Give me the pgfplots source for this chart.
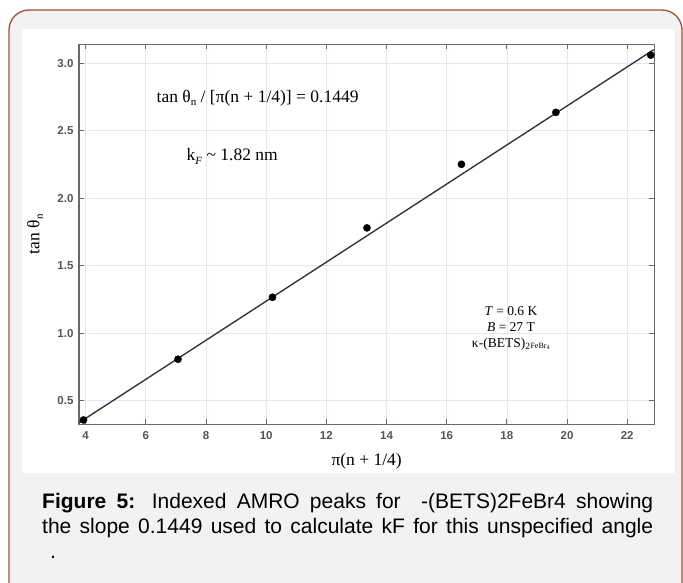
\documentclass[border=0pt]{standalone}
\usepackage{fontspec}
\setmainfont{Liberation Serif}
\newfontfamily\arialfont{Liberation Sans}
\usepackage{pgfplots}
\pgfplotsset{compat=1.18}
\definecolor{framebrown}{RGB}{160,82,52}
\definecolor{bggray}{RGB}{242,242,242}
\definecolor{gridc}{RGB}{228,228,250}
\definecolor{axisc}{RGB}{105,105,105}
\definecolor{tickc}{RGB}{85,85,85}
\definecolor{fitc}{RGB}{50,50,50}
\newcommand{\sub}[1]{\raisebox{-0.45ex}{\fontsize{11}{12}\selectfont #1}}

\begin{document}
\begin{tikzpicture}[x=1pt,y=1pt]
\useasboundingbox (0,0) rectangle (683,582);
\begin{scope}
\clip (0,0) rectangle (683,582);
\draw[framebrown, line width=1.3pt, fill=bggray, rounded corners=20pt] (9,-40) rectangle (682,572);
\end{scope}
\fill[white] (22,109) rectangle (675,553);
\begin{axis}[
  at={(79pt,157.7pt)}, anchor=south west,
  width=575.3pt, height=380pt, scale only axis,
  xmin=3.78, xmax=22.9, ymin=0.325, ymax=3.14,
  xtick={4,6,...,22}, ytick={0.5,1,1.5,2,2.5,3},
  yticklabel style={/pgf/number format/fixed, /pgf/number format/fixed zerofill, /pgf/number format/precision=1, xshift=-2pt},
  /pgf/number format/assume math mode=true,
  ticklabel style={font=\arialfont\bfseries\fontsize{11.5}{12}\selectfont, text=tickc},
  xticklabel style={yshift=-4pt},
  tick pos=both, tick align=inside, major tick length=5pt,
  tick style={axisc, line width=0.8pt},
  axis line style={axisc, line width=1.5pt},
  grid=major, grid style={gridc, line width=0.7pt},
  xlabel={π(n + 1/4)},
  ylabel={tan θ\sub{n}},
  label style={font=\fontsize{17.5}{20}\selectfont},
  xlabel style={at={(axis description cs:0.5,-0.097)}, anchor=center},
  ylabel style={at={(axis description cs:-0.0765,0.5)}, anchor=center},
]
\addplot[fitc, line width=1.35pt] coordinates {(3.78,0.337) (22.88,3.10)};
\addplot[only marks, mark=*, mark size=3.6pt, black] coordinates {
 (3.93,0.357) (7.07,0.807) (10.21,1.266) (13.35,1.780)
 (16.49,2.251) (19.63,2.636) (22.78,3.060)};
\end{axis}
\node[anchor=west, inner sep=0pt, font=\fontsize{17.5}{20}\selectfont] at (156.5,484)
  {tan θ\sub{n} / [π(n + 1/4)] = 0.1449};
\node[anchor=west, inner sep=0pt, font=\fontsize{17.5}{20}\selectfont] at (186.5,425.3)
  {k\sub{\textit{F}} \textasciitilde\ 1.82 nm};
\node[align=center, inner sep=0pt, font=\fontsize{13.5}{16}\selectfont] at (511,254)
  {\textit{T} = 0.6 K\\ \textit{B} = 27 T\\ κ-(BETS)\textsubscript{2}\raisebox{-0.25ex}{\fontsize{8}{9}\selectfont FeBr\textsubscript{4}}};
\node[anchor=base west, inner sep=0pt, font=\arialfont\fontsize{21}{25}\selectfont] at (42,74)
  {\hbox to 611pt{\textbf{Figure 5:} Indexed AMRO peaks for\ \ -(BETS)2FeBr4 showing}};
\node[anchor=base west, inner sep=0pt, font=\arialfont\fontsize{21}{25}\selectfont] at (42,49)
  {\hbox to 611pt{the slope 0.1449 used to calculate kF for this unspecified angle}};
\node[anchor=base west, inner sep=0pt, font=\arialfont\fontsize{21}{25}\selectfont] at (50,24) {.};
\end{tikzpicture}
\end{document}
